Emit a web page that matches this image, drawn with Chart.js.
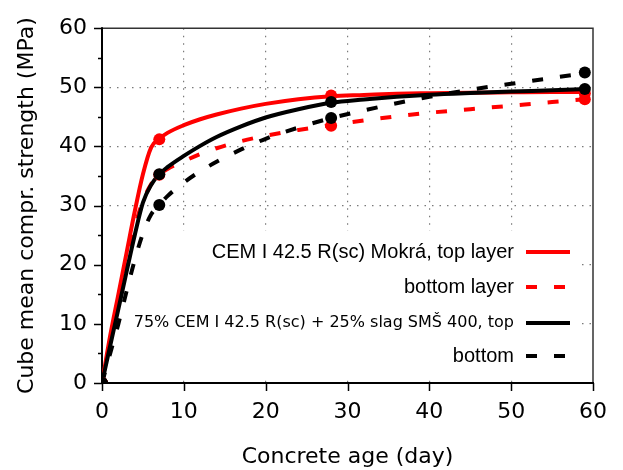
<!DOCTYPE html>
<html>
<head>
<meta charset="utf-8">
<script src="https://cdn.jsdelivr.net/npm/chart.js@4/dist/chart.umd.min.js"></script>
<style>
  html, body { margin: 0; padding: 0; background: #fff; }
  #wrap { width: 623px; height: 470px; }
</style>
</head>
<body>
<div id="wrap"><canvas id="strengthChart"></canvas></div>
<script>
// measured cube strengths (MPa) at concrete age (days)
const measuredDays = [0, 7, 28, 59];
const cemTop = [0, 41.2, 48.6, 49.0];
const cemBottom = [0, 35.2, 43.5, 48.0];
const slagTop = [0, 35.3, 47.5, 49.7];
const slagBottom = [0, 30.1, 44.8, 52.5];

// fitted curves
const fitDays = [0, 1, 2, 3, 4, 5, 6, 7, 8, 10, 12, 14, 17, 20, 24, 28, 32, 36, 40, 45, 50, 55, 59];
const cemTopFit = [0, 8, 15, 22, 29, 35.3, 39.8, 41.3, 42.3, 43.6, 44.6, 45.4, 46.4, 47.2, 48.0, 48.5, 48.7, 48.9, 49.0, 49.1, 49.15, 49.2, 49.2];
const cemBottomFit = [0, 7, 13.5, 20.3, 26.3, 30.8, 33.6, 35.2, 36.2, 37.5, 38.7, 39.7, 40.9, 41.8, 42.8, 43.6, 44.4, 45.1, 45.7, 46.3, 46.9, 47.5, 48.0];
const slagTopFit = [0, 6.3, 12.5, 18.8, 25, 30.5, 33.5, 35.3, 36.5, 38.4, 40.1, 41.6, 43.4, 44.9, 46.3, 47.4, 47.95, 48.4, 48.75, 49.05, 49.3, 49.5, 49.7];
const slagBottomFit = [0, 5, 10, 15.5, 20.8, 25.3, 28.5, 30.1, 31.6, 33.9, 35.8, 37.4, 39.5, 41.3, 43.2, 44.8, 46.1, 47.3, 48.4, 49.6, 50.6, 51.6, 52.4];

const legendLabels = [
  'CEM I 42.5 R(sc) Mokrá, top layer',
  'bottom layer',
  '75% CEM I 42.5 R(sc) + 25% slag SMŠ 400, top',
  'bottom'
];

const RED = '#ff0000';
const BLACK = '#000000';
const DASH = [11, 17];

const pts = (xs, ys) => xs.map((x, i) => ({ x: x, y: ys[i] }));

function markerSet(data, color) {
  return {
    data: pts(measuredDays, data),
    showLine: false,
    pointRadius: 6,
    pointHoverRadius: 6,
    pointBackgroundColor: color,
    pointBorderColor: color,
    pointBorderWidth: 0
  };
}

function fitSet(data, color, dashed, row, font) {
  return {
    label: legendLabels[row],
    data: pts(fitDays, data),
    borderColor: color,
    borderWidth: 4,
    borderDash: dashed ? DASH : [],
    pointRadius: 0,
    fill: false,
    cubicInterpolationMode: 'monotone',
    legendRow: row,
    legendFont: font
  };
}

const bigFont = '20px "Liberation Sans", Arial, sans-serif';
const smallFont = '16px "DejaVu Sans", sans-serif';

// matplotlib-like frame, ticks and in-plot legend
const framePlugin = {
  id: 'frame',
  beforeDatasetsDraw(chart) {
    const { ctx, chartArea: a, scales } = chart;
    ctx.save();
    // legend background hides the grid
    ctx.fillStyle = '#fff';
    ctx.fillRect(a.left + 1, 231, 580 - a.left, 145);

    // top and right spines
    ctx.strokeStyle = '#333';
    ctx.lineWidth = 1.5;
    ctx.beginPath();
    ctx.moveTo(a.left, a.top);
    ctx.lineTo(a.right, a.top);
    ctx.lineTo(a.right, a.bottom);
    ctx.stroke();

    // left and bottom spines
    ctx.strokeStyle = '#000';
    ctx.lineWidth = 2;
    ctx.beginPath();
    ctx.moveTo(a.left, a.top - 1);
    ctx.lineTo(a.left, a.bottom);
    ctx.lineTo(a.right + 1, a.bottom);
    ctx.stroke();

    // tick marks, outward
    ctx.lineWidth = 1.5;
    ctx.beginPath();
    scales.y.ticks.forEach(t => {
      const py = Math.round(scales.y.getPixelForValue(t.value)) + 0.5;
      const len = t.value % 10 === 0 ? 8 : 4;
      ctx.moveTo(a.left - len, py);
      ctx.lineTo(a.left, py);
    });
    scales.x.ticks.forEach(t => {
      const px = Math.round(scales.x.getPixelForValue(t.value)) + 0.5;
      ctx.moveTo(px, a.bottom);
      ctx.lineTo(px, a.bottom + 8);
    });
    ctx.stroke();

    // legend entries
    const rowsY = [252, 287, 323, 356];
    const items = chart.data.datasets.filter(d => d.legendRow !== undefined);
    ctx.textAlign = 'right';
    ctx.textBaseline = 'middle';
    items.forEach(d => {
      const y = rowsY[d.legendRow];
      ctx.font = d.legendFont;
      ctx.fillStyle = '#000';
      ctx.fillText(d.label, 514, y);
      ctx.strokeStyle = d.borderColor;
      ctx.lineWidth = 4;
      ctx.setLineDash(d.borderDash);
      ctx.beginPath();
      ctx.moveTo(526, y);
      ctx.lineTo(570, y);
      ctx.stroke();
      ctx.setLineDash([]);
    });
    ctx.restore();
  }
};

const gridColor = v => (v % 10 === 0 && v > 0 && v < 60) ? '#7a7a7a' : 'rgba(0,0,0,0)';
const tickFont = { family: 'DejaVu Sans', size: 22 };

new Chart(document.getElementById('strengthChart'), {
  type: 'line',
  data: {
    datasets: [
      markerSet(slagBottom, BLACK),
      markerSet(slagTop, BLACK),
      markerSet(cemBottom, RED),
      markerSet(cemTop, RED),
      fitSet(slagTopFit, BLACK, false, 2, smallFont),
      fitSet(slagBottomFit, BLACK, true, 3, bigFont),
      fitSet(cemTopFit, RED, false, 0, bigFont),
      fitSet(cemBottomFit, RED, true, 1, bigFont)
    ]
  },
  options: {
    responsive: true,
    maintainAspectRatio: false,
    animation: false,
    events: [],
    layout: { padding: { left: 0, right: 26, top: 25, bottom: 0 } },
    plugins: {
      legend: { display: false },
      tooltip: { enabled: false }
    },
    scales: {
      x: {
        type: 'linear',
        min: 0,
        max: 60,
        afterFit: s => { s.height = 87; },
        ticks: { stepSize: 10, color: '#000', font: tickFont, padding: 16, maxRotation: 0 },
        grid: {
          drawTicks: false,
          color: c => gridColor(c.tick.value),
          lineWidth: 1.2
        },
        border: { display: false, dash: [1.5, 6] },
        title: {
          display: true,
          text: 'Concrete age (day)',
          color: '#000',
          font: { family: 'DejaVu Sans', size: 22 },
          padding: { top: 0, bottom: 0 }
        }
      },
      y: {
        type: 'linear',
        min: 0,
        max: 60,
        afterFit: s => { s.width = 102; },
        ticks: {
          stepSize: 5,
          color: '#000',
          font: tickFont,
          padding: 15,
          callback: v => (v % 10 === 0 ? v : '')
        },
        grid: {
          drawTicks: false,
          color: c => gridColor(c.tick.value),
          lineWidth: 1.2
        },
        border: { display: false, dash: [1.5, 6] },
        title: {
          display: true,
          text: 'Cube mean compr. strength (MPa)',
          color: '#000',
          font: { family: 'DejaVu Sans', size: 22 },
          padding: { top: 14, bottom: 0 }
        }
      }
    }
  },
  plugins: [framePlugin]
});
</script>
</body>
</html>
